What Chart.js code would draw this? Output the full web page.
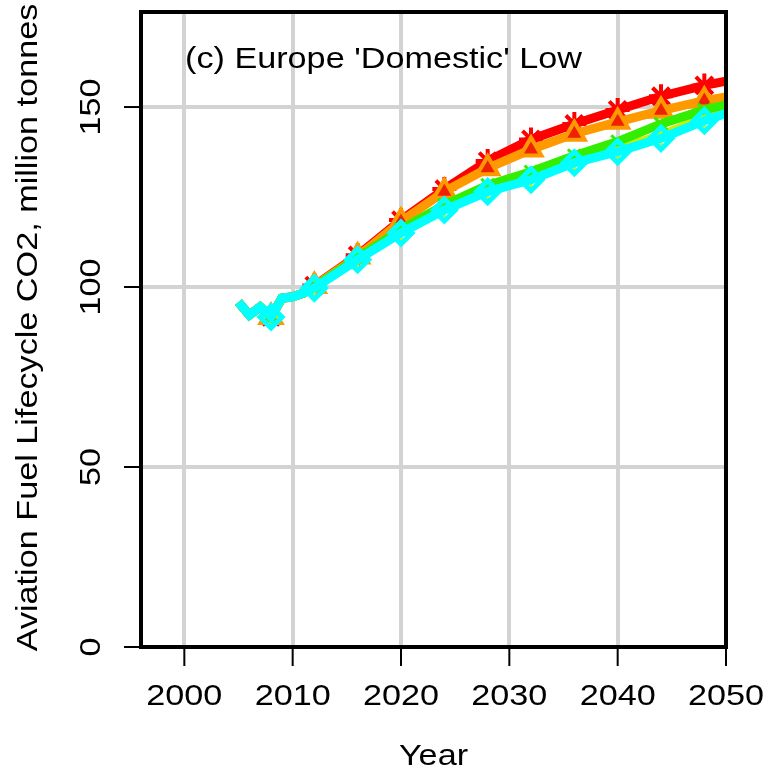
<!DOCTYPE html>
<html>
<head>
<meta charset="utf-8">
<title>Europe Domestic Low</title>
<script src="https://cdn.jsdelivr.net/npm/chart.js@4.4.1/dist/chart.umd.min.js"></script>
<style>
  html, body { margin: 0; padding: 0; background: #fff; }
</style>
</head>
<body>
<canvas id="lineChart" width="767" height="777"></canvas>
<script>
// years with a value; annual history, then every 4 years
var years = [2005, 2006, 2007, 2008, 2009, 2010, 2011, 2012, 2016, 2020, 2024, 2028, 2032, 2036, 2040, 2044, 2048, 2050];
var markerYears = [2008, 2012, 2016, 2020, 2024, 2028, 2032, 2036, 2040, 2044, 2048];

// shared history 2005-2011
var pastVals = [95.8, 92.2, 94.5, 91.7, 96.9, 97.3, 98.3];

// scenario projections 2012-2050
var redVals    = [100.4, 108.8, 118.6, 127.2, 135.0, 141.0, 145.3, 149.2, 153.0, 156.0, 157.2];
var orangeVals = [100.3, 108.5, 118.2, 126.5, 133.0, 138.2, 142.6, 145.9, 149.0, 151.8, 152.8];
var yellowVals = [99.9, 108.0, 115.6, 122.0, 127.2, 130.5, 135.2, 138.4, 142.1, 147.0, 149.0];
var greenVals  = [100.0, 108.1, 116.0, 122.8, 128.3, 132.0, 136.5, 140.4, 145.3, 149.2, 150.6];
var cyanVals   = [99.7, 107.6, 115.0, 121.4, 126.5, 129.8, 134.5, 137.6, 141.3, 146.2, 148.2];

var yearTicks = [2000, 2010, 2020, 2030, 2040, 2050];
var valueTicks = [0, 50, 100, 150];

var FONT = '30px "Liberation Sans", Arial, Helvetica, sans-serif';
var STRETCH = 1.14; // the R device font runs wider than Liberation

function points(vals) {
  var all = pastVals.concat(vals);
  return years.map(function(y, i) { return { x: y, y: all[i] }; });
}

function markerSize(r) {
  return function(ctx) {
    return markerYears.indexOf(years[ctx.dataIndex]) >= 0 ? r : 0;
  };
}

function series(vals, color, style, r, fill, bw) {
  return {
    data: points(vals),
    borderColor: color,
    borderWidth: 9,
    pointStyle: style,
    pointRadius: markerSize(r),
    pointBorderColor: color,
    pointBackgroundColor: fill,
    pointBorderWidth: bw,
    tension: 0,
    clip: 0
  };
}

// text at (x, y), optionally rotated, widened along its baseline
function label(c, text, x, y, align, rot) {
  c.save();
  c.translate(x, y);
  if (rot) c.rotate(rot);
  c.scale(STRETCH, 1);
  c.textAlign = align;
  c.fillText(text, 0, 0);
  c.restore();
}

// axis box, ticks, rotated labels and titles in the R style
var frame = {
  id: 'frame',
  afterDraw: function(chart) {
    var c = chart.ctx, a = chart.chartArea;
    var xs = chart.scales.x, ys = chart.scales.y;
    c.save();
    c.strokeStyle = '#000';
    c.fillStyle = '#000';
    c.lineWidth = 4;
    c.strokeRect(a.left, a.top, a.right - a.left, a.bottom - a.top);

    c.lineWidth = 2;
    c.font = FONT;
    c.textBaseline = 'middle';
    yearTicks.forEach(function(v) {
      var px = xs.getPixelForValue(v);
      c.beginPath();
      c.moveTo(px, a.bottom + 2);
      c.lineTo(px, a.bottom + 19);
      c.stroke();
      label(c, String(v), px, 697, 'center', 0);
    });
    valueTicks.forEach(function(v) {
      var py = ys.getPixelForValue(v);
      c.beginPath();
      c.moveTo(a.left - 17, py);
      c.lineTo(a.left - 2, py);
      c.stroke();
      label(c, String(v), 92, py, 'center', -Math.PI / 2);
    });

    label(c, 'Year', (a.left + a.right) / 2, 757, 'center', 0);
    label(c, 'Aviation Fuel Lifecycle CO2, million tonnes', 29, (a.top + a.bottom) / 2 - 2, 'center', -Math.PI / 2);
    label(c, "(c) Europe 'Domestic' Low", 185, 60, 'left', 0);
    c.restore();
  }
};

var ctxL = document.getElementById('lineChart').getContext('2d');
var myLineChart = new Chart(ctxL, {
  type: 'line',
  data: {
    // later datasets sit underneath, so cyan comes first
    datasets: [
      series(cyanVals, '#00ffff', 'rectRot', 11, 'rgba(0,0,0,0)', 5),
      series(greenVals, '#33ee00', 'crossRot', 9, '#33ee00', 3),
      series(yellowVals, '#ccee00', 'cross', 10, '#ccee00', 3),
      series(orangeVals, '#ff9900', 'triangle', 12, '#ee2200', 4),
      series(redVals, '#ff0000', 'star', 12, '#ff0000', 4)
    ]
  },
  options: {
    responsive: false,
    animation: false,
    layout: { padding: { left: 141, top: 12, right: 41, bottom: 130 } },
    plugins: { legend: { display: false }, tooltip: { enabled: false } },
    scales: {
      x: {
        type: 'linear',
        min: 1996,
        max: 2050,
        afterBuildTicks: function(s) { s.ticks = yearTicks.map(function(v) { return { value: v }; }); },
        ticks: { display: false },
        grid: { color: '#d3d3d3', lineWidth: 4, drawTicks: false },
        border: { display: false }
      },
      y: {
        min: 0,
        max: 176.4,
        afterBuildTicks: function(s) { s.ticks = valueTicks.map(function(v) { return { value: v }; }); },
        ticks: { display: false },
        grid: { color: '#d3d3d3', lineWidth: 4, drawTicks: false },
        border: { display: false }
      }
    }
  },
  plugins: [frame]
});
</script>
</body>
</html>
